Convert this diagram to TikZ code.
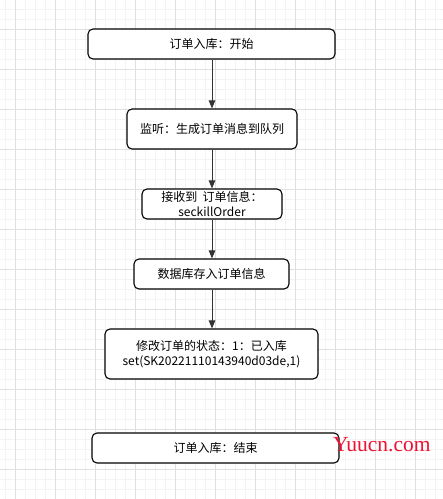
\documentclass[tikz,border=0pt]{standalone}
\usepackage{fontspec}
\setmainfont{Noto Sans CJK SC}
\newfontfamily\wmfont{Liberation Serif}
\usetikzlibrary{arrows.meta}
\definecolor{gridminor}{HTML}{F3F3F3}
\definecolor{gridmajor}{HTML}{E0E0E0}
\definecolor{wmred}{HTML}{EE1133}
\begin{document}
\begin{tikzpicture}[x=1pt,y=-1pt,
  flowbox/.style={draw=black,line width=1.1pt,rounded corners=5pt,fill=white,
    align=center,inner sep=0pt,font=\fontsize{12}{14.5}\selectfont},
  flowarrow/.style={draw=black!80,line width=1pt,-{Triangle[length=8pt,width=6.5pt]}}]
\useasboundingbox (0,0) rectangle (443,499);
\fill[white] (0,0) rectangle (443,499);
% minor grid
\foreach \x in {5,15,...,443} \draw[gridminor,line width=0.8pt] (\x,0) -- (\x,499);
\foreach \y in {9,19,...,499} \draw[gridminor,line width=0.8pt] (0,\y) -- (443,\y);
% major grid
\foreach \x in {15,55,...,443} \draw[gridmajor,line width=0.8pt] (\x,0) -- (\x,499);
\foreach \y in {29,69,...,499} \draw[gridmajor,line width=0.8pt] (0,\y) -- (443,\y);
% boxes
\node[flowbox,minimum width=247pt,minimum height=30pt] (b1) at (211.5,44) {订单入库：开始};
\node[flowbox,minimum width=170pt,minimum height=40pt] (b2) at (212,129) {监听：生成订单消息到队列};
\node[flowbox,minimum width=140pt,minimum height=30pt] (b3) at (212,204) {接收到 \ 订单信息：\\seckillOrder};
\node[flowbox,minimum width=155pt,minimum height=30pt] (b4) at (211.5,274) {数据库存入订单信息};
\node[flowbox,minimum width=213pt,minimum height=50pt] (b5) at (211.5,354) {修改订单的状态：1：已入库\\set(SK20221110143940d03de,1)};
\node[flowbox,minimum width=247pt,minimum height=30pt] (b6) at (215.5,448) {订单入库：结束};
% arrows
\draw[flowarrow] (b1.south -| b2.north) -- (b2.north);
\draw[flowarrow] (b2.south) -- (b3.north);
\draw[flowarrow] (b3.south) -- (b3.south |- b4.north);
\draw[flowarrow] (b3.south |- b4.south) -- (b3.south |- b5.north);
% watermark
\node[anchor=base west,inner sep=0pt,text=wmred,font=\wmfont\fontsize{21.5}{21.5}\selectfont] (wm) at (333,451) {Yuucn.com};
\end{tikzpicture}
\end{document}
